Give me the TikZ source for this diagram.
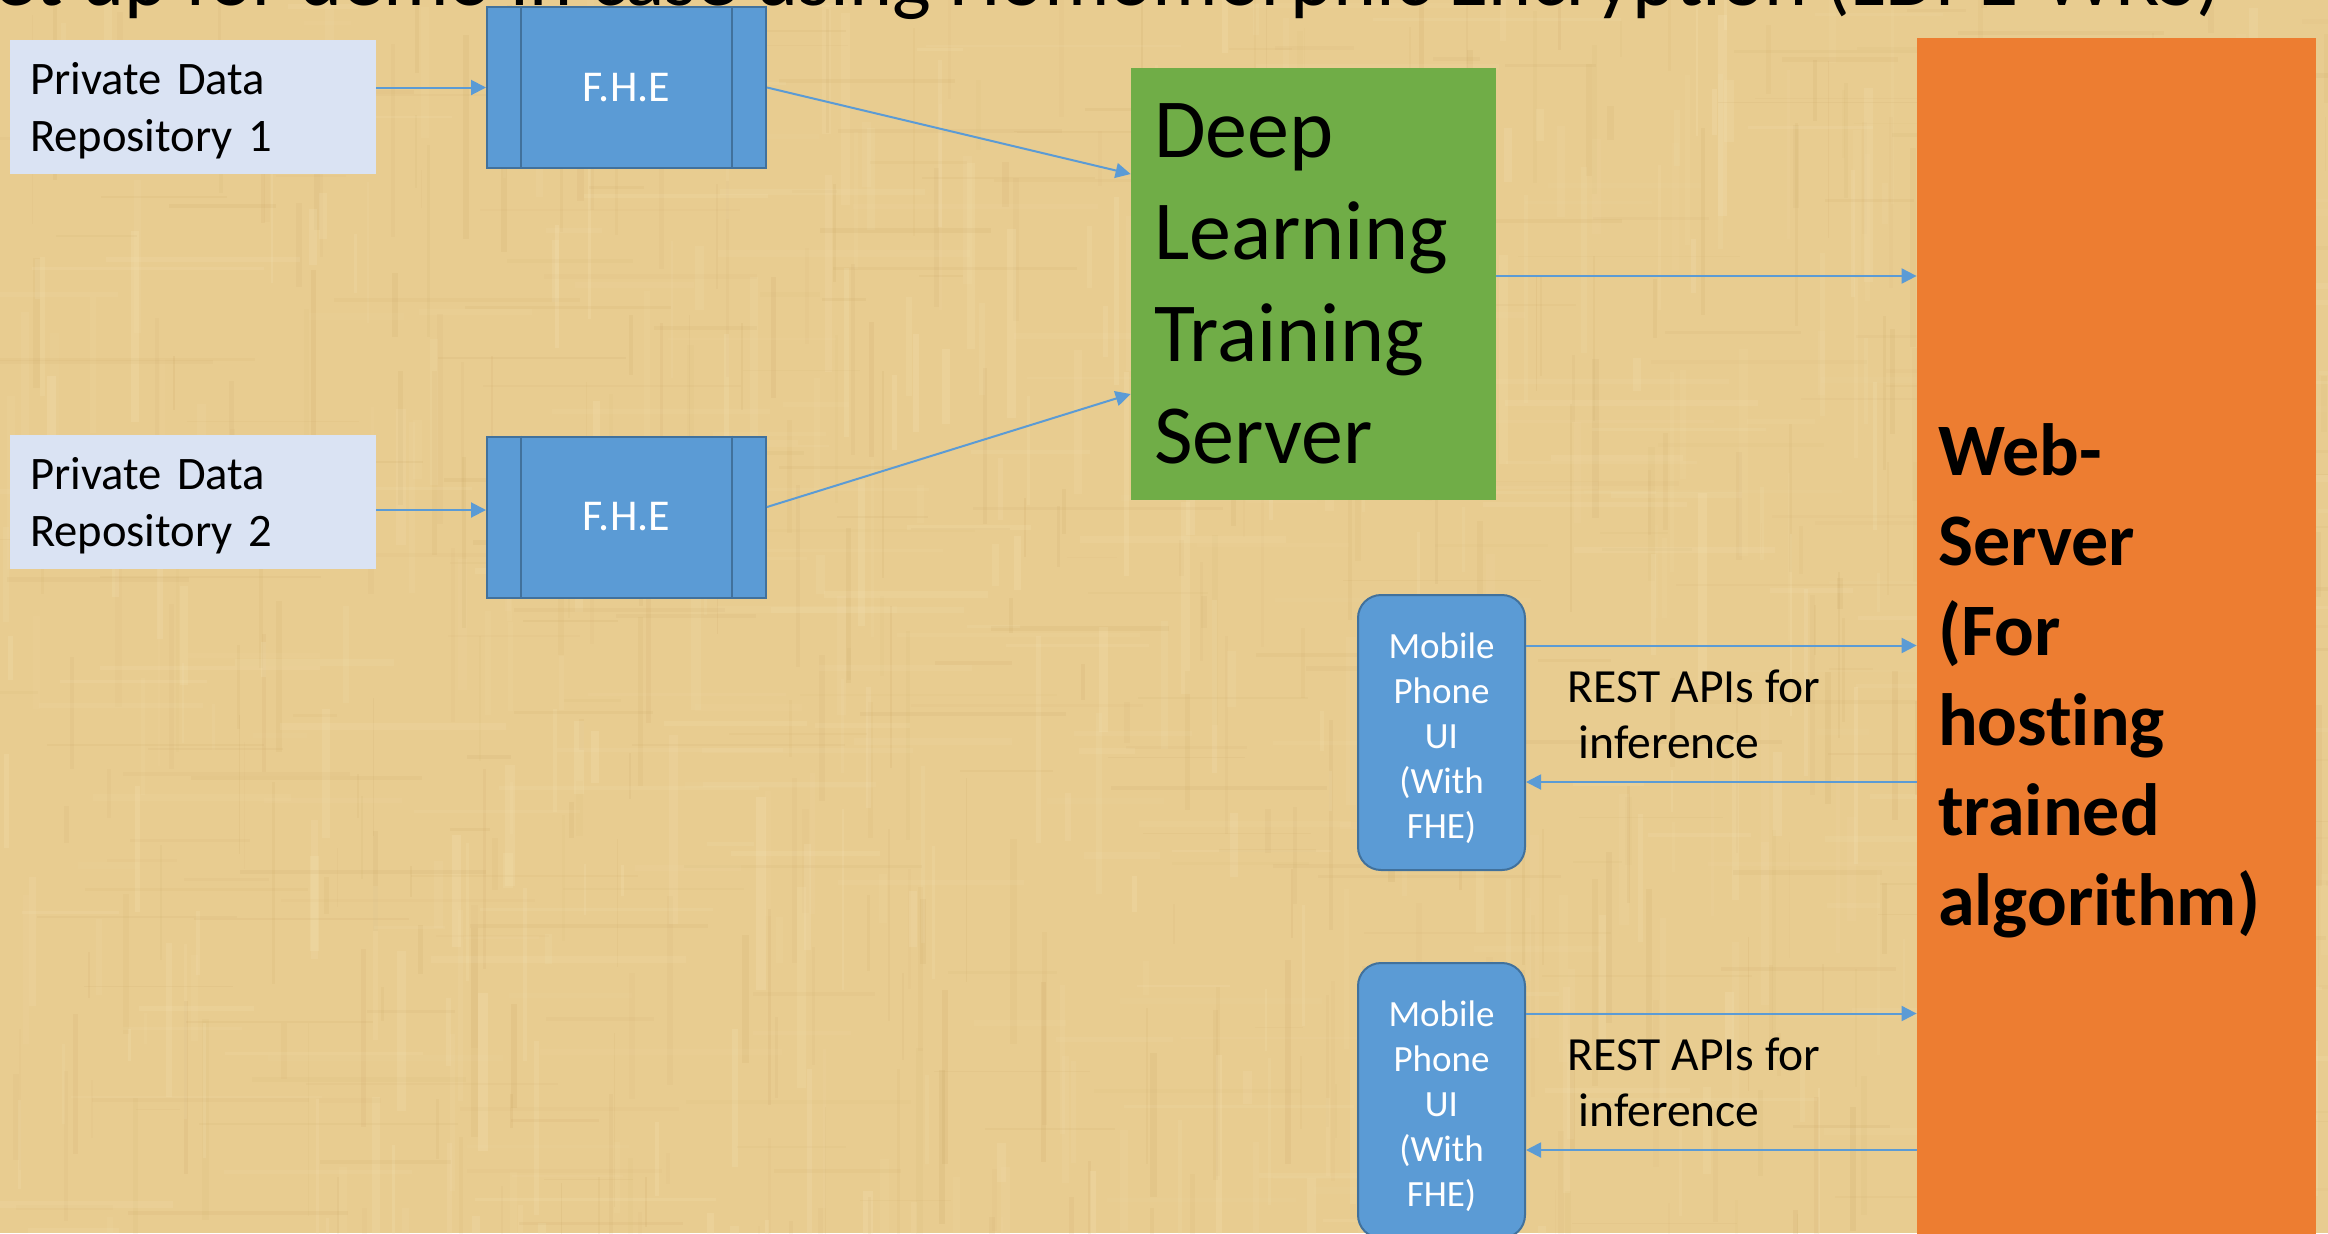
\documentclass[tikz,border=0pt]{standalone}
\usepackage{fontspec}
\setmainfont{Carlito}[Ligatures=NoCommon]
\usetikzlibrary{arrows.meta}
\definecolor{papyrus}{RGB}{232,204,144}
\definecolor{papyrusdark}{RGB}{196,158,92}
\definecolor{papyruslight}{RGB}{248,232,190}
\definecolor{repofill}{RGB}{218,227,243}
\definecolor{fheblue}{RGB}{91,155,213}
\definecolor{fheedge}{RGB}{65,113,156}
\definecolor{trainfill}{RGB}{112,173,71}
\definecolor{webfill}{RGB}{237,125,49}
\tikzset{
  repo/.style={fill=repofill, minimum width=183pt, minimum height=67pt,
    text width=163pt, inner xsep=10pt, inner ysep=0pt, align=left,
    font=\fontsize{23.3}{28.5}\selectfont},
  fhebox/.style={fill=fheblue, draw=fheedge, line width=1pt,
    minimum width=139.5pt, minimum height=80.5pt, inner sep=0pt,
    text=white, font=\fontsize{22}{26}\selectfont},
  fheline/.style={draw=fheedge, line width=1pt},
  trainbox/.style={fill=trainfill, minimum width=182.5pt, minimum height=216pt,
    text width=159.5pt, inner xsep=11.5pt, inner ysep=0pt, align=left,
    font=\fontsize{42}{51}\selectfont},
  webbox/.style={fill=webfill, minimum width=199.5pt, minimum height=643.5pt,
    text width=178.5pt, inner xsep=10.5pt, inner ysep=0pt, align=left,
    font=\bfseries\fontsize{37}{45}\selectfont},
  phone/.style={fill=fheblue, draw=fheedge, line width=1pt, rounded corners=11.5pt,
    minimum width=83.5pt, minimum height=137.5pt, inner sep=0pt,
    text=white, align=center, font=\fontsize{18.5}{22.5}\selectfont},
  restlabel/.style={inner sep=0pt, anchor=west, align=left,
    font=\fontsize{23.8}{28}\selectfont},
  heading/.style={inner sep=0pt, anchor=base east,
    font=\fontsize{41}{49}\selectfont},
  flow/.style={draw=fheblue, line width=1pt,
    -{Triangle[length=7.5pt,width=7.5pt]}},
}
\begin{document}
\begin{tikzpicture}[x=0.5pt,y=-0.5pt]
\useasboundingbox (0,0) rectangle (2328,1233);
\clip (0,0) rectangle (2328,1233);

% papyrus background with short woven fibres
\fill[papyrus] (0,0) rectangle (2328,1233);
\pgfmathsetseed{42}
\foreach \k in {1,...,420}{
  \pgfmathsetmacro\px{rnd*2328}
  \pgfmathsetmacro\pw{1+rnd*6}
  \pgfmathsetmacro\py{rnd*1300-60}
  \pgfmathsetmacro\ph{30+rnd*180}
  \pgfmathsetmacro\po{0.04+0.10*rnd}
  \fill[papyrusdark, opacity=\po] (\px,\py) rectangle ++(\pw,\ph);
}
\foreach \k in {1,...,380}{
  \pgfmathsetmacro\px{rnd*2328}
  \pgfmathsetmacro\pw{2+rnd*8}
  \pgfmathsetmacro\py{rnd*1300-60}
  \pgfmathsetmacro\ph{30+rnd*180}
  \pgfmathsetmacro\po{0.06+0.14*rnd}
  \fill[papyruslight, opacity=\po] (\px,\py) rectangle ++(\pw,\ph);
}
\foreach \k in {1,...,260}{
  \pgfmathsetmacro\px{rnd*2400-60}
  \pgfmathsetmacro\pw{40+rnd*220}
  \pgfmathsetmacro\py{rnd*1233}
  \pgfmathsetmacro\ph{1+rnd*4}
  \pgfmathsetmacro\po{0.04+0.08*rnd}
  \fill[papyrusdark, opacity=\po] (\px,\py) rectangle ++(\pw,\ph);
}
\foreach \k in {1,...,200}{
  \pgfmathsetmacro\px{rnd*2400-60}
  \pgfmathsetmacro\pw{40+rnd*220}
  \pgfmathsetmacro\py{rnd*1233}
  \pgfmathsetmacro\ph{2+rnd*5}
  \pgfmathsetmacro\po{0.05+0.10*rnd}
  \fill[papyruslight, opacity=\po] (\px,\py) rectangle ++(\pw,\ph);
}

% heading, cut by the top edge
\node[heading] (title) at (2222,5) {Set up for demo in case using Homomorphic Encryption (LDPE-WRS)};

% data repositories
\node[repo] (repo1) at (193,107) {\rule{0pt}{20pt}Private Data\\Repository 1};
\node[repo] (repo2) at (193,501.5) {\rule{0pt}{20pt}Private Data\\Repository 2};

% encryption stages
\node[fhebox] (fhe1) at (626.5,87.5) {\raisebox{-1.5pt}{F.H.E}};
\node[fhebox] (fhe2) at (626.5,517) {\raisebox{-1.5pt}{F.H.E}};
\foreach \f in {fhe1,fhe2}{
  \draw[fheline] ([xshift=17.5pt]\f.north west) -- ([xshift=17.5pt]\f.south west);
  \draw[fheline] ([xshift=-17.5pt]\f.north east) -- ([xshift=-17.5pt]\f.south east);
}

% training server
\node[trainbox] (train) at (1313.5,284) {Deep\\Learning\\Training\\Server};

% web server
\node[webbox] (web) at (2116.5,681) {Web-\\Server\\(For\\hosting\\trained\\algorithm)};

% mobile clients
\node[phone] (phone1) at (1441.5,732.5) {\rule{0pt}{18.5pt}Mobile\\Phone\\UI\\(With\\FHE)};
\node[phone] (phone2) at (1441.5,1100.5) {\rule{0pt}{18.5pt}Mobile\\Phone\\UI\\(With\\FHE)};

\node[restlabel] (rest1) at (1567,714) {REST APIs for\\\hspace*{0.23em}inference};
\node[restlabel] (rest2) at (1567,1082.5) {REST APIs for\\\hspace*{0.23em}inference};

% connectors
\draw[flow] (repo1.east |- fhe1.west) -- (fhe1.west);
\coordinate (r2out) at ([yshift=-4.25pt]repo2.east);
\draw[flow] (r2out) -- (r2out -| fhe2.west);
\draw[flow] (fhe1.east) -- ([yshift=55pt]train.west);
\draw[flow] ([yshift=5pt]fhe2.east) -- ([yshift=-55pt]train.west);
\draw[flow] ([yshift=4pt]train.east) -- ([yshift=4pt]train.east -| web.west);

\foreach \p in {phone1,phone2}{
  \draw[flow] ([yshift=43.5pt]\p.east) -- ([yshift=43.5pt]\p.east -| web.west);
  \draw[flow] ([yshift=-24.75pt]\p.east -| web.west) -- ([yshift=-24.75pt]\p.east);
}
\end{tikzpicture}
\end{document}
